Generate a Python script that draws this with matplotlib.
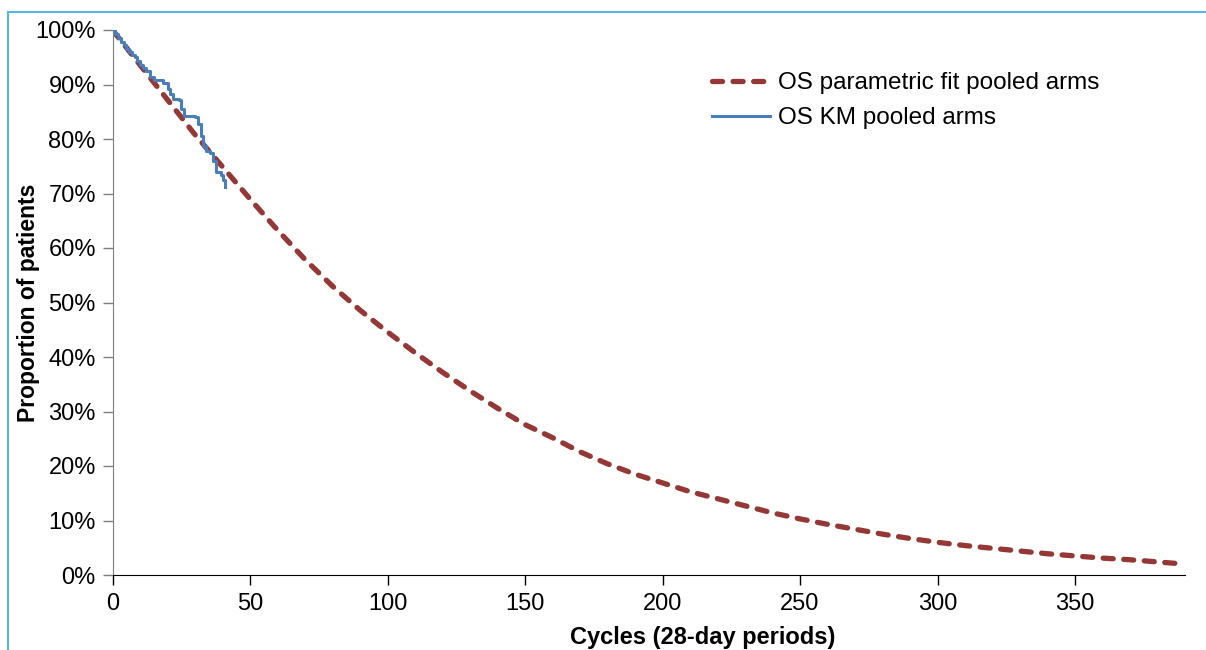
import matplotlib
matplotlib.use("Agg")
import matplotlib.pyplot as plt
from matplotlib.patches import Rectangle
from matplotlib.ticker import PercentFormatter

# Parametric OS fit (pooled arms), every 10 cycles
fit_cycles = [0, 10, 20, 30, 40, 50, 60, 70, 80, 90, 100, 110, 120, 130, 140,
              150, 160, 170, 180, 190, 200, 210, 220, 230, 240, 250, 260, 270,
              280, 290, 300, 310, 320, 330, 340, 350, 360, 370, 380, 390]
fit_surv = [100.0, 93.6, 87.2, 80.8, 74.9, 69.0, 63.3, 57.9, 53.0, 48.6, 44.6,
            40.8, 37.2, 33.8, 30.6, 27.6, 25.2, 22.6, 20.4, 18.5, 16.9, 15.3,
            14.0, 12.7, 11.4, 10.3, 9.3, 8.4, 7.5, 6.7, 6.0, 5.4, 4.9, 4.4,
            3.9, 3.5, 3.1, 2.8, 2.4, 2.0]

# Kaplan-Meier OS (pooled arms), step function
km_cycles = [0, 1, 2, 3, 4, 5, 6, 7, 8, 9, 10, 11, 12, 13.5, 15, 18.5, 20, 21,
             22, 24, 25, 26, 30, 31, 32, 32.8, 34, 35.5, 36.5, 37.5, 39.5,
             40.2, 41]
km_surv = [100.0, 99.3, 98.5, 97.8, 97.2, 96.6, 96.0, 95.5, 95.0, 94.3, 93.6,
           93.0, 92.4, 91.4, 90.8, 90.3, 89.2, 88.2, 87.4, 87.2, 85.5, 84.3,
           84.1, 82.8, 80.5, 78.7, 77.8, 77.5, 76.0, 74.0, 73.4, 72.5, 71.2]

x_ticks = [0, 50, 100, 150, 200, 250, 300, 350]
y_ticks = [0, 10, 20, 30, 40, 50, 60, 70, 80, 90, 100]

plt.rcParams['font.family'] = ['Liberation Sans', 'DejaVu Sans']

fig = plt.figure(figsize=(12.06, 6.5), dpi=100)
ax = fig.add_axes([112.5 / 1206, 1 - 575 / 650, (1185 - 112.5) / 1206, 545 / 650])

ax.plot(fit_cycles, fit_surv, color='#953735', lw=3.8, dashes=(1.9, 2.0),
        dash_capstyle='round', label='OS parametric fit pooled arms', zorder=2)
ax.plot(km_cycles, km_surv, color='#4A7EBB', lw=2.2, drawstyle='steps-post',
        label='OS KM pooled arms', zorder=3)

ax.set_xlim(0, 390)
ax.set_ylim(0, 100)
ax.set_xticks(x_ticks)
ax.set_yticks(y_ticks)
ax.yaxis.set_major_formatter(PercentFormatter(decimals=0))
ax.tick_params(axis='both', direction='out', length=7, width=1, labelsize=17)
ax.tick_params(axis='y', colors='#7f7f7f', labelcolor='black', pad=5)
ax.tick_params(axis='x', colors='black', pad=6)

for side in ('top', 'right'):
    ax.spines[side].set_visible(False)
ax.spines['left'].set_color('#7f7f7f')
ax.spines['bottom'].set_color('black')

ax.set_xlabel('Cycles (28-day periods)', fontsize=17, fontweight='bold')
ax.set_ylabel('Proportion of patients', fontsize=16.5, fontweight='bold')
ax.xaxis.set_label_coords((703 - 112.5) / (1185 - 112.5), -0.093)
ax.yaxis.set_label_coords(-0.068, 0.5)

ax.legend(loc='upper left', bbox_to_anchor=(712 / 1206, 1 - 72 / 650),
          bbox_transform=fig.transFigure, frameon=False, fontsize=17.5,
          borderpad=0, borderaxespad=0, handlelength=2.4, handletextpad=0.3,
          labelspacing=0.55)

# light blue frame around the chart area (left and top edges visible)
fig.add_artist(Rectangle((8 / 1206, -0.05), 1.1, 1 - 12 / 650 + 0.05,
                         transform=fig.transFigure, fill=False,
                         edgecolor='#5BB4E6', lw=1.5))

fig.savefig('out.png', dpi=100)
